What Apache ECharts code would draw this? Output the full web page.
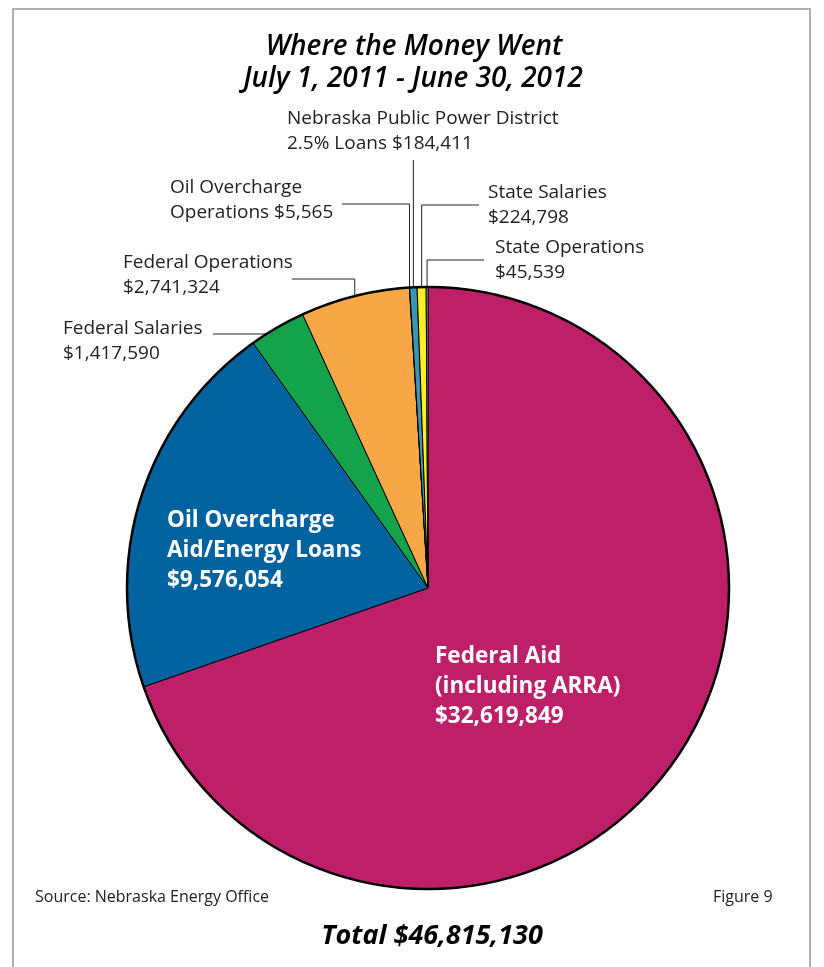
<!DOCTYPE html>
<html><head><meta charset="utf-8">
<script src="https://cdn.jsdelivr.net/npm/echarts@6/dist/echarts.min.js"></script>
<style>html,body{margin:0;padding:0;background:#fff}#c{width:824px;height:967px}</style>
</head><body><div id="c"></div>
<script>
// ---- data ----
const categories = [
  'Federal Aid\n(including ARRA)',
  'Oil Overcharge\nAid/Energy Loans',
  'Federal Salaries',
  'Federal Operations',
  'Oil Overcharge\nOperations',
  'Nebraska Public Power District\n2.5% Loans',
  'State Salaries',
  'State Operations'
];
const values = [32619849, 9576054, 1417590, 2741324, 5565, 184411, 224798, 45539];
const colors = ['#BE1F69', '#00629E', '#14A24A', '#F7A746', '#6B6A2A', '#3A95B5', '#FFEE22', '#B6C0E2'];
const insideFlags = [true, true, false, false, false, false, false, false];
const labelText = [
  'Federal Aid\n(including ARRA)\n$32,619,849',
  'Oil Overcharge\nAid/Energy Loans\n$9,576,054',
  'Federal Salaries\n$1,417,590',
  'Federal Operations\n$2,741,324',
  'Oil Overcharge\nOperations $5,565',
  'Nebraska Public Power District\n2.5% Loans $184,411',
  'State Salaries\n$224,798',
  'State Operations\n$45,539'
];
// label layout (positions only): text left/top, and leader elbow
const labelPos = [
  {x: 435, y: 642},
  {x: 167, y: 506},
  {x: 63, y: 316, elbow: {y: 334, x2: 213}},
  {x: 123, y: 250, elbow: {y: 279, x2: 292}},
  {x: 170, y: 175, elbow: {y: 204, x2: 342}},
  {x: 287, y: 106, elbow: {y: 160}},
  {x: 488, y: 180, elbow: {y: 205, x2: 479}},
  {x: 495, y: 235, elbow: {y: 260, x2: 484}}
];

const chart = echarts.init(document.getElementById('c'), null, {renderer: 'canvas'});
const FONT = '"Open Sans", "Noto Sans", sans-serif';

const pieData = categories.map((name, i) => ({
  name: name,
  value: values[i],
  itemStyle: {color: colors[i]},
  label: insideFlags[i]
    ? {position: 'inside', color: '#fff', fontWeight: 'bold', fontSize: 22.5, lineHeight: 30, align: 'left'}
    : {position: 'outside', color: '#222', fontSize: 19, lineHeight: 25, align: 'left'},
  labelLine: {show: !insideFlags[i], lineStyle: {color: '#222', width: 1}}
}));

chart.setOption({
  animation: false,
  backgroundColor: '#fff',
  title: [
    {text: 'Where the Money Went', left: 409, top: 28, textAlign: 'center',
     textStyle: {fontFamily: FONT, fontStyle: 'italic', fontWeight: 600, fontSize: 28, color: '#000'}},
    {text: 'July 1, 2011 - June 30, 2012', left: 408, top: 60, textAlign: 'center',
     textStyle: {fontFamily: FONT, fontStyle: 'italic', fontWeight: 600, fontSize: 28, color: '#000'}},
    {text: 'Source: Nebraska Energy Office', left: 30, top: 884,
     textStyle: {fontFamily: FONT, fontWeight: 'normal', fontSize: 16, color: '#222'}},
    {text: 'Figure 9', left: 708, top: 884,
     textStyle: {fontFamily: FONT, fontWeight: 'normal', fontSize: 16, color: '#222'}},
    {text: 'Total $46,815,130', left: 427, top: 918, textAlign: 'center',
     textStyle: {fontFamily: FONT, fontStyle: 'italic', fontWeight: 'bold', fontSize: 27, color: '#000'}}
  ],
  graphic: [
    {type: 'rect', shape: {x: 13, y: 9, width: 797, height: 980}, silent: true, z: -10,
     style: {fill: 'none', stroke: '#b0b0b0', lineWidth: 2}}
  ],
  series: [
    {
      type: 'pie',
      center: [428, 588],
      radius: [0, 301],
      startAngle: 90,
      clockwise: true,
      avoidLabelOverlap: false,
      minShowLabelAngle: 0,
      data: pieData,
      itemStyle: {borderColor: '#000', borderWidth: 1},
      label: {
        fontFamily: FONT,
        formatter: p => labelText[p.dataIndex]
      },
      labelLine: {show: true},
      labelLayout: function (params) {
        const i = params.dataIndex;
        const lp = labelPos[i];
        const out = {x: lp.x, y: lp.y, align: 'left', verticalAlign: 'top'};
        if (lp.elbow && params.labelLinePoints) {
          const p0 = params.labelLinePoints[0];
          const pts = [[p0[0], p0[1]], [p0[0], lp.elbow.y]];
          if (lp.elbow.x2 != null) pts.push([lp.elbow.x2, lp.elbow.y]);
          else pts.push([p0[0], lp.elbow.y]);
          out.labelLinePoints = pts;
        }
        return out;
      },
      z: 2
    },
    {
      type: 'pie',
      silent: true,
      center: [428, 588],
      radius: [0, 301],
      label: {show: false},
      labelLine: {show: false},
      data: [{value: 1, itemStyle: {color: 'rgba(0,0,0,0)', borderColor: '#000', borderWidth: 2.5}}],
      z: 3
    }
  ]
});
</script>
</body></html>
